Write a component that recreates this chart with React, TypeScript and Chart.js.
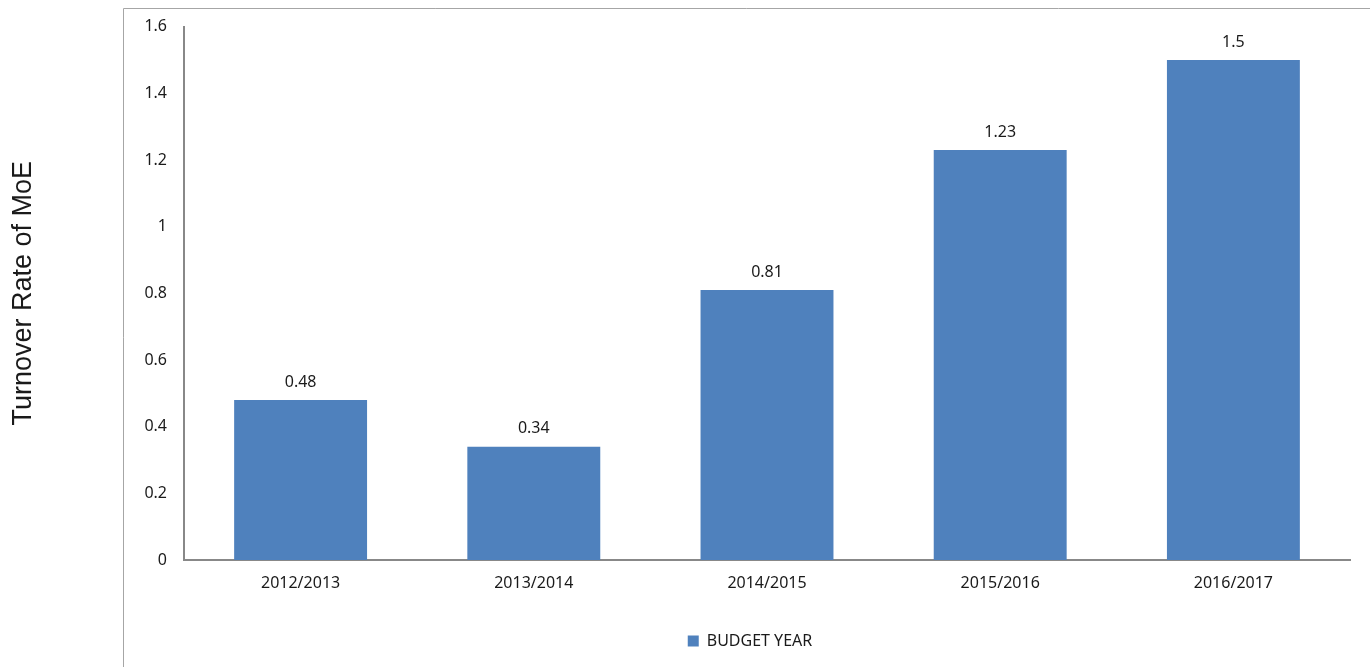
import React, { useEffect, useRef } from "react";
import { Chart, registerables } from "chart.js";

Chart.register(...registerables);

const categories = ["2012/2013", "2013/2014", "2014/2015", "2015/2016", "2016/2017"];
const turnoverValues = [0.48, 0.34, 0.81, 1.23, 1.5];
const seriesName = "BUDGET YEAR";
const yAxisTitle = "Turnover Rate of MoE";
const yMin = 0;
const yMax = 1.6;
const yStep = 0.2;

const BAR_COLOR = "#4F81BD";
const AXIS_COLOR = "#888888";
const FRAME_COLOR = "#A6A6A6";
const TEXT_COLOR = "#1a1a1a";
const FONT = "'Noto Sans', sans-serif";
const LEGEND_CENTER_X = 750;

const framePlugin = {
  id: "frame",
  beforeDraw(chart: any) {
    const { ctx, width, height } = chart;
    ctx.save();
    ctx.strokeStyle = FRAME_COLOR;
    ctx.lineWidth = 1;
    ctx.beginPath();
    ctx.moveTo(123.5, height);
    ctx.lineTo(123.5, 8.5);
    ctx.lineTo(width, 8.5);
    ctx.stroke();
    ctx.restore();
  },
};

const legendShiftPlugin = {
  id: "legendShift",
  afterLayout(chart: any) {
    const l = chart.legend;
    if (!l) return;
    const shift = LEGEND_CENTER_X - (l.left + l.right) / 2;
    l.left += shift;
    l.right += shift;
  },
};

const dataLabelPlugin = {
  id: "dataLabels",
  afterDatasetsDraw(chart: any) {
    const { ctx } = chart;
    const meta = chart.getDatasetMeta(0);
    ctx.save();
    ctx.font = `16px ${FONT}`;
    ctx.fillStyle = TEXT_COLOR;
    ctx.textAlign = "center";
    ctx.textBaseline = "middle";
    meta.data.forEach((bar: any, i: number) => {
      ctx.fillText(String(turnoverValues[i]), bar.x, bar.y - 18);
    });
    ctx.restore();
  },
};

export default function App() {
  const canvasRef = useRef<HTMLCanvasElement | null>(null);

  useEffect(() => {
    if (!canvasRef.current) return;
    const chart = new Chart(canvasRef.current, {
      type: "bar",
      data: {
        labels: categories,
        datasets: [
          {
            label: seriesName,
            data: turnoverValues,
            backgroundColor: BAR_COLOR,
            borderWidth: 0,
            barPercentage: 0.57,
            categoryPercentage: 1,
          },
        ],
      },
      options: {
        responsive: false,
        animation: false,
        layout: { padding: { top: 26, right: 20, bottom: 8, left: 0 } },
        plugins: {
          legend: {
            position: "bottom",
            labels: {
              boxWidth: 11,
              boxHeight: 11,
              padding: 10,
              color: TEXT_COLOR,
              font: { family: FONT, size: 16 },
            },
          },
          tooltip: { enabled: false },
        },
        scales: {
          x: {
            grid: { display: false, drawTicks: false },
            border: { display: true, color: AXIS_COLOR, width: 2 },
            ticks: {
              color: TEXT_COLOR,
              font: { family: FONT, size: 16 },
              padding: 14,
              maxRotation: 0,
            },
            afterFit(scale: any) {
              scale.height = 63;
            },
          },
          y: {
            min: yMin,
            max: yMax,
            grid: { display: false, drawTicks: false },
            border: { display: true, color: AXIS_COLOR, width: 2 },
            ticks: {
              stepSize: yStep,
              color: TEXT_COLOR,
              font: { family: FONT, size: 16 },
              padding: 17,
              callback: (v: any) => String(Number(Number(v).toFixed(1))),
            },
            title: {
              display: true,
              text: yAxisTitle,
              color: TEXT_COLOR,
              font: { family: "'Liberation Sans', Arial, sans-serif", size: 27 },
              padding: { top: 7, bottom: 0 },
            },
            afterFit(scale: any) {
              scale.width = 184;
            },
          },
        },
      },
      plugins: [framePlugin, legendShiftPlugin, dataLabelPlugin],
    });
    return () => chart.destroy();
  }, []);

  return (
    <div style={{ position: "fixed", left: 0, top: 0, width: 1370, height: 667, background: "#fff" }}>
      <canvas ref={canvasRef} width={1370} height={667} style={{ display: "block" }} />
    </div>
  );
}
